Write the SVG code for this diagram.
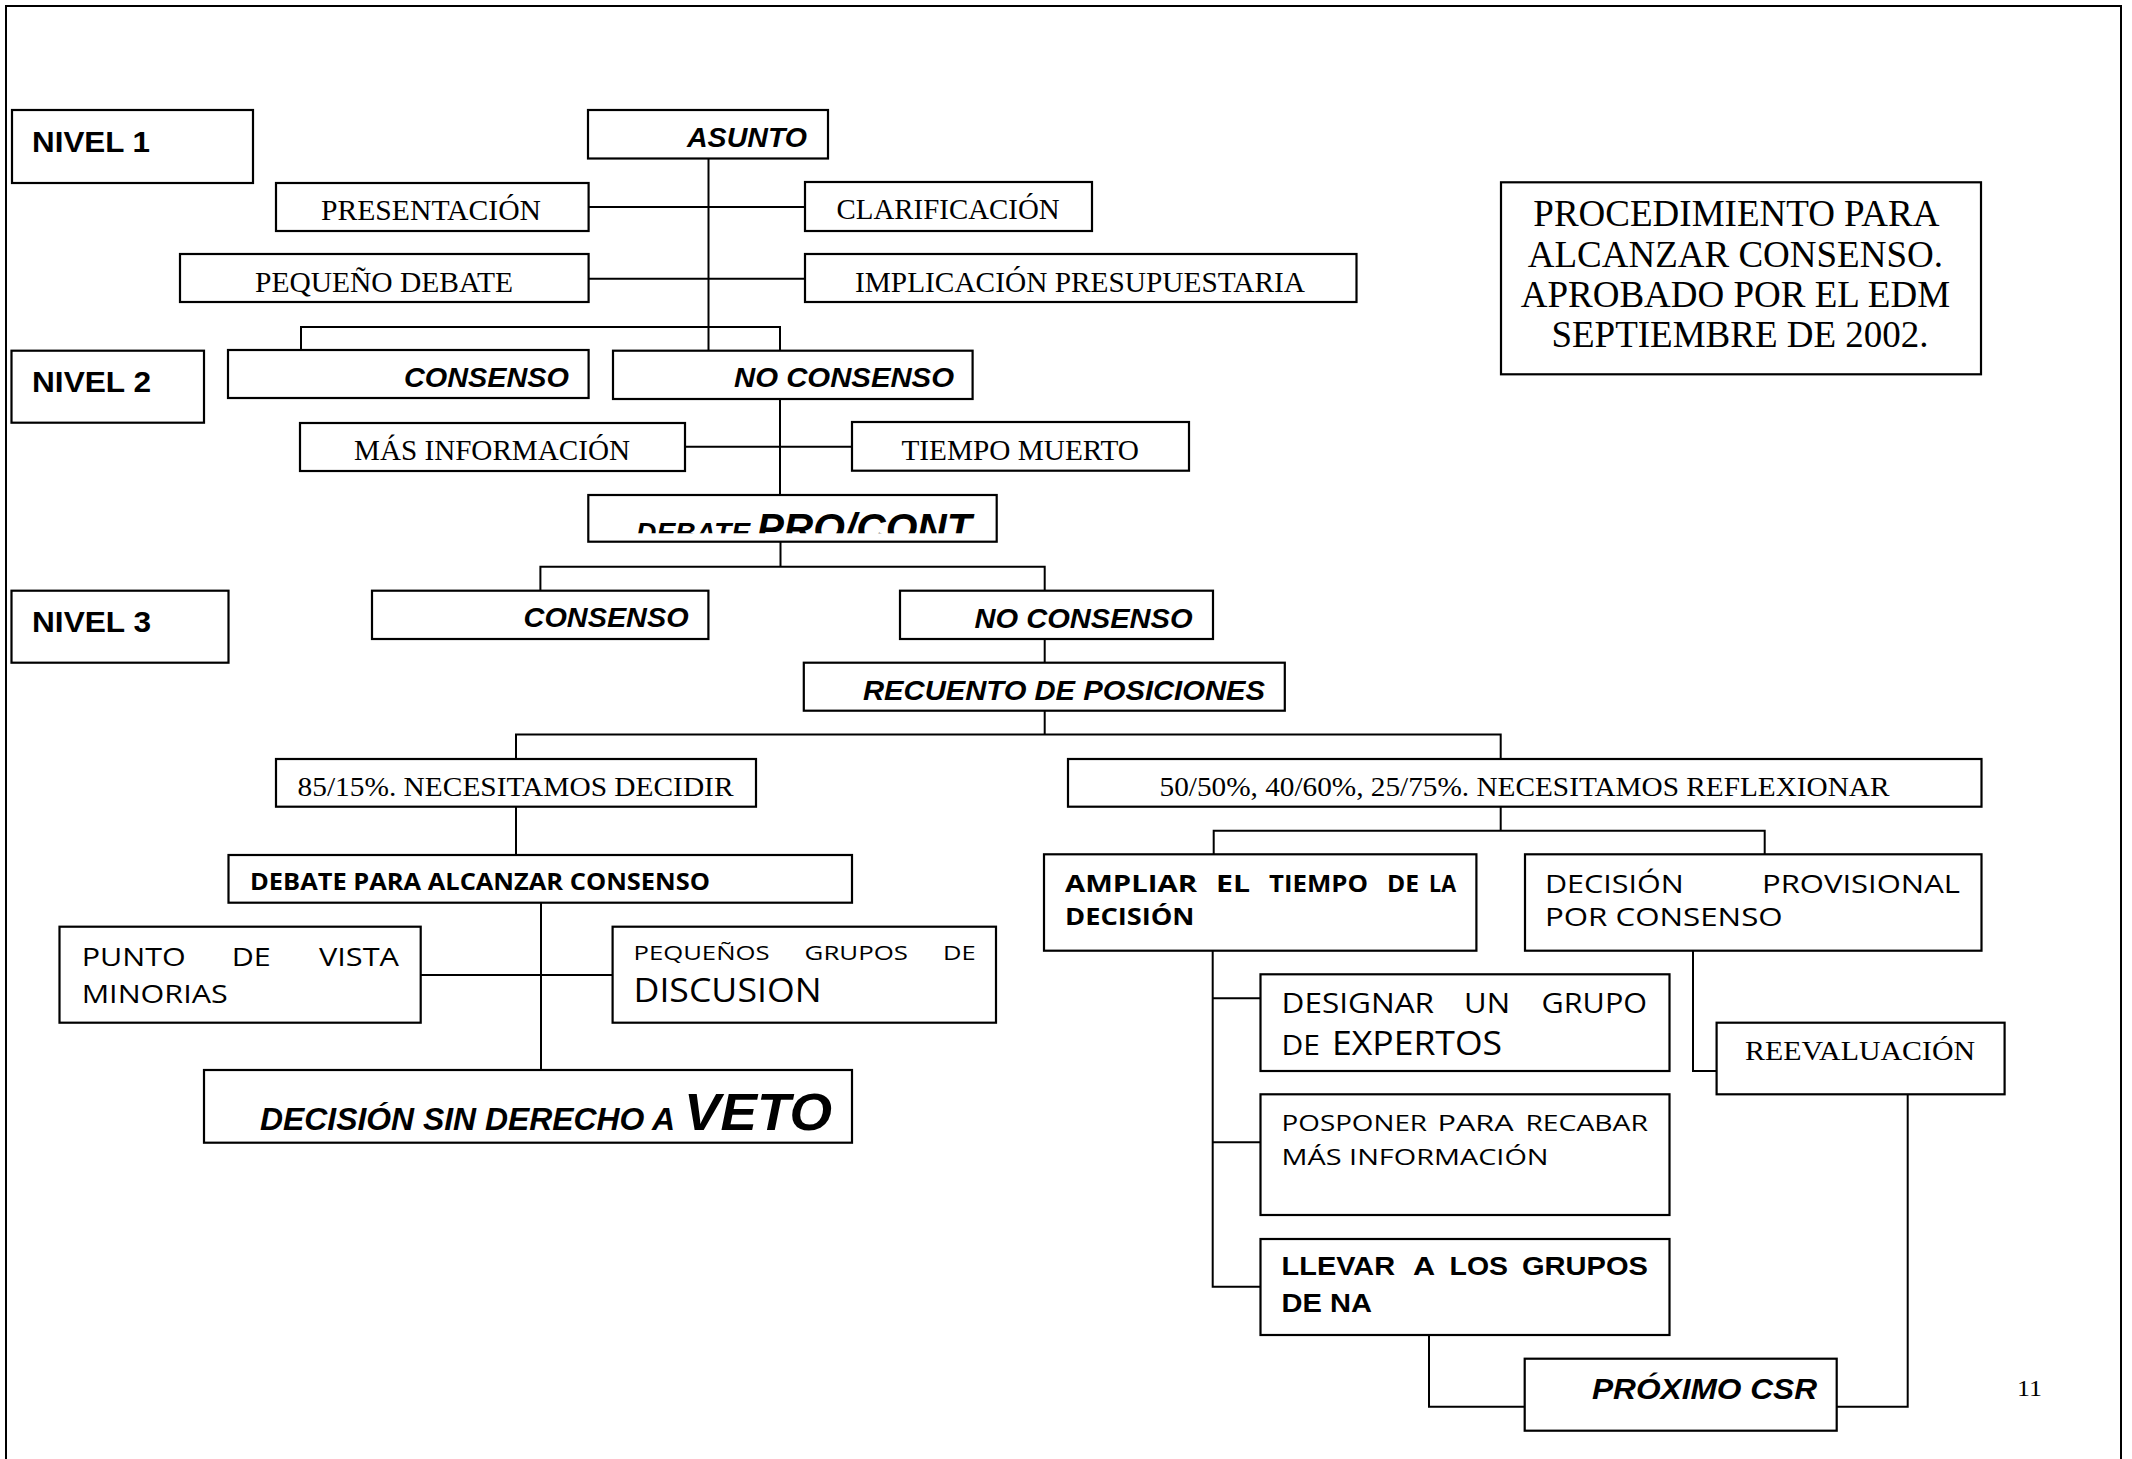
<svg xmlns="http://www.w3.org/2000/svg" width="2132" height="1459" viewBox="0 0 2132 1459">
<style>
.box{fill:#fff;stroke:#000;stroke-width:2.2}
.ln{fill:none;stroke:#000;stroke-width:2}
.ser{font-family:"Liberation Serif","Times New Roman",serif;fill:#000}
.b{font-family:"Liberation Sans",Arial,sans-serif;font-weight:bold;fill:#000}
.bi{font-family:"Liberation Sans",Arial,sans-serif;font-weight:bold;font-style:italic;fill:#000}
.cr{font-family:"Open Sans","Liberation Sans",sans-serif;fill:#000}
.cb{font-family:"Open Sans","Liberation Sans",sans-serif;font-weight:bold;fill:#000}
</style>
<defs>
<clipPath id="clipDebate"><rect x="588" y="495" width="409" height="38.3"/></clipPath>
</defs>
<rect width="2132" height="1459" fill="#fff"/>
<path class="ln" d="M6,1470 V6 H2121 V1470" stroke-width="2.4"/>

<g id="connectors">
<path class="ln" d="M708.5,158.7 V350.7"/>
<path class="ln" d="M588.6,207 H805"/>
<path class="ln" d="M588.6,278.7 H805"/>
<path class="ln" d="M301,350 V327 H780 V350.7"/>
<path class="ln" d="M780,399 V495"/>
<path class="ln" d="M685,446.7 H852"/>
<path class="ln" d="M780.5,541.7 V566.7"/>
<path class="ln" d="M540.4,590.7 V566.7 H1044.7 V590.7"/>
<path class="ln" d="M1044.7,639 V662.7"/>
<path class="ln" d="M1044.7,710.7 V734.5"/>
<path class="ln" d="M516,759 V734.5 H1500.7 V759"/>
<path class="ln" d="M516,806.7 V855"/>
<path class="ln" d="M541,902.7 V1070"/>
<path class="ln" d="M420.7,975 H612.6"/>
<path class="ln" d="M1500.7,806.7 V830.7"/>
<path class="ln" d="M1213.7,854.3 V830.7 H1764.7 V854.3"/>
<path class="ln" d="M1212.7,950.7 V1286.7 H1260.5"/>
<path class="ln" d="M1212.7,998.3 H1260.5"/>
<path class="ln" d="M1212.7,1142.3 H1260.5"/>
<path class="ln" d="M1693,950.7 V1071 H1716.6"/>
<path class="ln" d="M1907.7,1094.3 V1406.7 H1836.7"/>
<path class="ln" d="M1429,1335 V1406.7 H1524.7"/>
</g>

<g id="nivel1"><rect class="box" x="12" y="110" width="241" height="73"/><text class="b" x="32" y="152" font-size="30" textLength="118" lengthAdjust="spacingAndGlyphs">NIVEL 1</text></g>
<g id="asunto"><rect class="box" x="588" y="110" width="240" height="48.5"/><text class="bi" x="687" y="147" font-size="28" textLength="120" lengthAdjust="spacingAndGlyphs">ASUNTO</text></g>
<g id="presentacion"><rect class="box" x="276" y="183" width="312.6" height="48"/><text class="ser" x="321" y="220" font-size="29.5" textLength="220" lengthAdjust="spacingAndGlyphs">PRESENTACIÓN</text></g>
<g id="clarificacion"><rect class="box" x="805" y="182" width="287" height="49"/><text class="ser" x="836.6" y="219" font-size="29.5" textLength="223" lengthAdjust="spacingAndGlyphs">CLARIFICACIÓN</text></g>
<g id="pequeno-debate"><rect class="box" x="180" y="254" width="408.6" height="48"/><text class="ser" x="255" y="292" font-size="29.5" textLength="258" lengthAdjust="spacingAndGlyphs">PEQUEÑO DEBATE</text></g>
<g id="implicacion"><rect class="box" x="805" y="254" width="551.5" height="48"/><text class="ser" x="855" y="291.7" font-size="29.5" textLength="450" lengthAdjust="spacingAndGlyphs">IMPLICACIÓN PRESUPUESTARIA</text></g>
<g id="procedimiento"><rect class="box" x="1501" y="182.3" width="480" height="192"/>
<text class="ser" font-size="37" text-anchor="middle">
<tspan x="1740" y="226">PROCEDIMIENTO PARA</tspan>
<tspan x="1740" y="266.7">ALCANZAR CONSENSO.</tspan>
<tspan x="1740" y="306.7">APROBADO POR EL EDM</tspan>
<tspan x="1740" y="346.7">SEPTIEMBRE DE 2002.</tspan>
</text></g>
<g id="nivel2"><rect class="box" x="11.5" y="350.7" width="192.5" height="72"/><text class="b" x="32" y="391.7" font-size="30" textLength="119" lengthAdjust="spacingAndGlyphs">NIVEL 2</text></g>
<g id="consenso2"><rect class="box" x="228" y="350" width="360.6" height="48"/><text class="bi" x="404" y="387" font-size="28" textLength="165" lengthAdjust="spacingAndGlyphs">CONSENSO</text></g>
<g id="noconsenso2"><rect class="box" x="613" y="350.7" width="359.6" height="48.3"/><text class="bi" x="734" y="387" font-size="28" textLength="220" lengthAdjust="spacingAndGlyphs">NO CONSENSO</text></g>
<g id="masinfo"><rect class="box" x="300" y="423" width="385" height="48"/><text class="ser" x="354" y="460" font-size="29.5" textLength="276" lengthAdjust="spacingAndGlyphs">MÁS INFORMACIÓN</text></g>
<g id="tiempo"><rect class="box" x="852" y="422" width="337" height="48.7"/><text class="ser" x="901.5" y="460" font-size="29.5" textLength="237.5" lengthAdjust="spacingAndGlyphs">TIEMPO MUERTO</text></g>
<g id="debate-pro-cont"><rect class="box" x="588.3" y="495" width="408.4" height="46.7"/>
<g clip-path="url(#clipDebate)">
<text class="bi" x="636" y="542" font-size="28" textLength="114" lengthAdjust="spacingAndGlyphs">DEBATE</text>
<text class="bi" x="756.7" y="542" font-size="41" textLength="215" lengthAdjust="spacingAndGlyphs">PRO/CONT</text>
</g></g>
<g id="nivel3"><rect class="box" x="11.5" y="590.7" width="217" height="72"/><text class="b" x="32" y="631.7" font-size="30" textLength="119" lengthAdjust="spacingAndGlyphs">NIVEL 3</text></g>
<g id="consenso3"><rect class="box" x="372" y="590.7" width="336.4" height="48.3"/><text class="bi" x="523.6" y="626.7" font-size="28" textLength="165" lengthAdjust="spacingAndGlyphs">CONSENSO</text></g>
<g id="noconsenso3"><rect class="box" x="900" y="590.7" width="313" height="48.3"/><text class="bi" x="974.5" y="628.3" font-size="28" textLength="218" lengthAdjust="spacingAndGlyphs">NO CONSENSO</text></g>
<g id="recuento"><rect class="box" x="803.8" y="662.7" width="481" height="48"/><text class="bi" x="863" y="700" font-size="28" textLength="402" lengthAdjust="spacingAndGlyphs">RECUENTO DE POSICIONES</text></g>
<g id="decidir"><rect class="box" x="276" y="759" width="480" height="47.7"/><text class="ser" x="297.5" y="796" font-size="27" textLength="436" lengthAdjust="spacingAndGlyphs">85/15%. NECESITAMOS DECIDIR</text></g>
<g id="reflexionar"><rect class="box" x="1068" y="759" width="913.5" height="47.7"/><text class="ser" x="1159.5" y="796" font-size="27" textLength="730" lengthAdjust="spacingAndGlyphs">50/50%, 40/60%, 25/75%. NECESITAMOS REFLEXIONAR</text></g>
<g id="debate-para"><rect class="box" x="228.5" y="855" width="623.5" height="47.7"/><text class="cb" x="250" y="890" font-size="23" textLength="460" lengthAdjust="spacingAndGlyphs">DEBATE PARA ALCANZAR CONSENSO</text></g>
<g id="ampliar"><rect class="box" x="1044" y="854.3" width="432.4" height="96.4"/>
<text class="cb" font-size="24" y="891.7"><tspan x="1065" textLength="132" lengthAdjust="spacingAndGlyphs">AMPLIAR</tspan> <tspan x="1216" textLength="34" lengthAdjust="spacingAndGlyphs">EL</tspan> <tspan x="1269" textLength="99" lengthAdjust="spacingAndGlyphs">TIEMPO</tspan> <tspan x="1387" textLength="32" lengthAdjust="spacingAndGlyphs">DE</tspan> <tspan x="1429" textLength="27" lengthAdjust="spacingAndGlyphs">LA</tspan></text>
<text class="cb" font-size="24" x="1065" y="925" textLength="129.5" lengthAdjust="spacingAndGlyphs">DECISIÓN</text></g>
<g id="provisional"><rect class="box" x="1525" y="854.3" width="456.5" height="96.4"/>
<text class="cr" font-size="25" y="892.7"><tspan x="1545" textLength="138.7" lengthAdjust="spacingAndGlyphs">DECISIÓN</tspan> <tspan x="1762" textLength="198" lengthAdjust="spacingAndGlyphs">PROVISIONAL</tspan></text>
<text class="cr" font-size="25" x="1545" y="926" textLength="237.6" lengthAdjust="spacingAndGlyphs">POR CONSENSO</text></g>
<g id="punto-vista"><rect class="box" x="59.5" y="926.7" width="361.2" height="96"/>
<text class="cr" font-size="26" y="966"><tspan x="81.7" textLength="104" lengthAdjust="spacingAndGlyphs">PUNTO</tspan> <tspan x="231.7" textLength="39" lengthAdjust="spacingAndGlyphs">DE</tspan> <tspan x="319" textLength="80" lengthAdjust="spacingAndGlyphs">VISTA</tspan></text>
<text class="cr" font-size="26" x="81.7" y="1003" textLength="146" lengthAdjust="spacingAndGlyphs">MINORIAS</text></g>
<g id="pequenos-grupos"><rect class="box" x="612.6" y="926.7" width="383.4" height="96"/>
<text class="cr" font-size="20" y="960"><tspan x="633.5" textLength="136" lengthAdjust="spacingAndGlyphs">PEQUEÑOS</tspan> <tspan x="804.6" textLength="103.4" lengthAdjust="spacingAndGlyphs">GRUPOS</tspan> <tspan x="943" textLength="32.6" lengthAdjust="spacingAndGlyphs">DE</tspan></text>
<text class="cr" font-size="32" x="633.5" y="1001.7" textLength="188" lengthAdjust="spacingAndGlyphs">DISCUSION</text></g>
<g id="veto"><rect class="box" x="204" y="1070" width="648" height="72.7"/>
<text class="bi" x="260" y="1130" font-size="31" textLength="415" lengthAdjust="spacingAndGlyphs">DECISIÓN SIN DERECHO A</text>
<text class="bi" x="684" y="1130" font-size="52" textLength="148" lengthAdjust="spacingAndGlyphs">VETO</text></g>
<g id="designar"><rect class="box" x="1260.5" y="974.3" width="409" height="96.7"/>
<text class="cr" font-size="28" y="1013.3"><tspan x="1281.6" textLength="152.4" lengthAdjust="spacingAndGlyphs">DESIGNAR</tspan> <tspan x="1464" textLength="46" lengthAdjust="spacingAndGlyphs">UN</tspan> <tspan x="1541.6" textLength="105.4" lengthAdjust="spacingAndGlyphs">GRUPO</tspan></text>
<text class="cr" y="1055"><tspan x="1281.6" font-size="27" textLength="38.4" lengthAdjust="spacingAndGlyphs">DE</tspan> <tspan x="1332" font-size="32" textLength="170" lengthAdjust="spacingAndGlyphs">EXPERTOS</tspan></text></g>
<g id="reevaluacion"><rect class="box" x="1716.6" y="1022.7" width="288" height="71.6"/><text class="ser" x="1745" y="1060" font-size="27" textLength="230" lengthAdjust="spacingAndGlyphs">REEVALUACIÓN</text></g>
<g id="posponer"><rect class="box" x="1260.5" y="1094.3" width="409" height="120.7"/>
<text class="cr" font-size="22" y="1130.7"><tspan x="1281.6" textLength="145.4" lengthAdjust="spacingAndGlyphs">POSPONER</tspan> <tspan x="1437.6" textLength="76" lengthAdjust="spacingAndGlyphs">PARA</tspan> <tspan x="1525.4" textLength="122.6" lengthAdjust="spacingAndGlyphs">RECABAR</tspan></text>
<text class="cr" font-size="22" x="1281.6" y="1165" textLength="267" lengthAdjust="spacingAndGlyphs">MÁS INFORMACIÓN</text></g>
<g id="llevar"><rect class="box" x="1260.5" y="1239" width="409" height="96"/>
<text class="b" font-size="26" y="1275"><tspan x="1281.6" textLength="113.4" lengthAdjust="spacingAndGlyphs">LLEVAR</tspan> <tspan x="1413" textLength="21" lengthAdjust="spacingAndGlyphs">A</tspan> <tspan x="1449.5" textLength="58.5" lengthAdjust="spacingAndGlyphs">LOS</tspan> <tspan x="1522" textLength="126" lengthAdjust="spacingAndGlyphs">GRUPOS</tspan></text>
<text class="b" font-size="26" x="1281.6" y="1311.7" textLength="90.4" lengthAdjust="spacingAndGlyphs">DE NA</text></g>
<g id="proximo"><rect class="box" x="1524.7" y="1358.7" width="312" height="72"/><text class="bi" x="1592" y="1399" font-size="29" textLength="225" lengthAdjust="spacingAndGlyphs">PRÓXIMO CSR</text></g>
<text class="ser" x="2017" y="1396" font-size="24" textLength="25" lengthAdjust="spacingAndGlyphs">11</text>
</svg>
